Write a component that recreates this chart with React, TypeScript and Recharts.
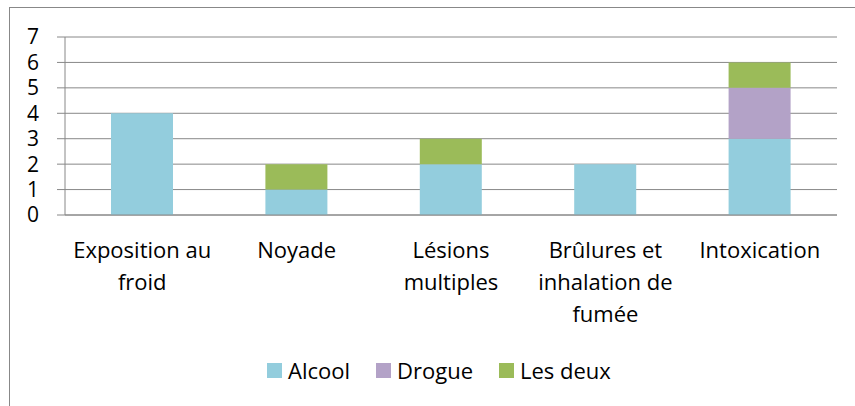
import { BarChart, Bar, XAxis, YAxis, CartesianGrid, Legend } from 'recharts';

const categories = ['Exposition au froid', 'Noyade', 'Lésions multiples', 'Brûlures et inhalation de fumée', 'Intoxication'];
const labelLines = [['Exposition au', 'froid'], ['Noyade'], ['Lésions', 'multiples'], ['Brûlures et', 'inhalation de', 'fumée'], ['Intoxication']];
const alcool = [4, 1, 2, 2, 3];
const drogue = [0, 0, 0, 0, 2];
const lesDeux = [0, 1, 1, 0, 1];
const yTicks = [0, 1, 2, 3, 4, 5, 6, 7];
const edgeTicks = [0, 1, 2, 3, 4, 5];

const FONT = '"Open Sans", sans-serif';
const GREY = '#888888';

const data = categories.map((name, i) => ({ name, alcool: alcool[i], drogue: drogue[i], lesDeux: lesDeux[i] }));

function CatTick(props: any) {
  const { x, y, payload } = props;
  const i = categories.indexOf(payload.value);
  const lines = labelLines[i] ?? [payload.value];
  return (
    <text x={x} y={y} textAnchor="middle" fill="#000" fontSize={22} fontFamily={FONT}>
      {lines.map((l, k) => (
        <tspan key={k} x={x} y={y + 42 + k * 32}>{l}</tspan>
      ))}
    </text>
  );
}

function LegendBox(props: any) {
  const items = props.payload || [];
  return (
    <div style={{ display: 'flex', alignItems: 'center', gap: 26, height: 30, fontFamily: FONT, fontSize: 22, lineHeight: '30px', color: '#000', whiteSpace: 'nowrap' }}>
      {items.map((it: any) => (
        <div key={it.value} style={{ display: 'flex', alignItems: 'center', gap: 6 }}>
          <span style={{ display: 'inline-block', width: 15, height: 15, background: it.color }} />
          <span>{it.value}</span>
        </div>
      ))}
    </div>
  );
}

export default function App() {
  return (
    <div style={{ position: 'absolute', left: 0, top: 0, width: 855, height: 406, overflow: 'hidden', background: '#fff' }}>
      <div style={{ position: 'absolute', left: 9, top: 7, width: 900, height: 450, borderLeft: `1px solid ${GREY}`, borderTop: `1px solid ${GREY}` }} />
      <div style={{ position: 'absolute', left: 0, top: 0 }}>
        <BarChart width={855} height={406} data={data} margin={{ top: 37, right: 18, bottom: 0, left: 9 }}>
          <CartesianGrid vertical={false} stroke={GREY} strokeOpacity={1} />
          <XAxis xAxisId={0} type="number" domain={[0, 5]} ticks={edgeTicks} allowDataOverflow height={1}
            axisLine={{ stroke: GREY }} tickLine={{ stroke: GREY }} tickSize={9} tick={false} />
          <XAxis xAxisId="cat" dataKey="name" type="category" height={190} axisLine={false} tickLine={false}
            tickSize={0} tickMargin={0} interval={0} tick={<CatTick />} />
          <YAxis domain={[0, 7]} ticks={yTicks} width={56} interval={0}
            axisLine={{ stroke: GREY }} tickLine={{ stroke: GREY }} tickSize={8} tickMargin={18}
            tick={{ fill: '#000', fontSize: 21, fontFamily: FONT }} />
          <Legend content={<LegendBox />} wrapperStyle={{ top: 355, left: 267, width: 'auto', height: 0 }} />
          <Bar xAxisId="cat" dataKey="alcool" name="Alcool" stackId="a" fill="#93CDDD" barSize={62} isAnimationActive={false} />
          <Bar xAxisId="cat" dataKey="drogue" name="Drogue" stackId="a" fill="#B3A2C7" barSize={62} isAnimationActive={false} />
          <Bar xAxisId="cat" dataKey="lesDeux" name="Les deux" stackId="a" fill="#9BBB59" barSize={62} isAnimationActive={false} />
        </BarChart>
      </div>
    </div>
  );
}
